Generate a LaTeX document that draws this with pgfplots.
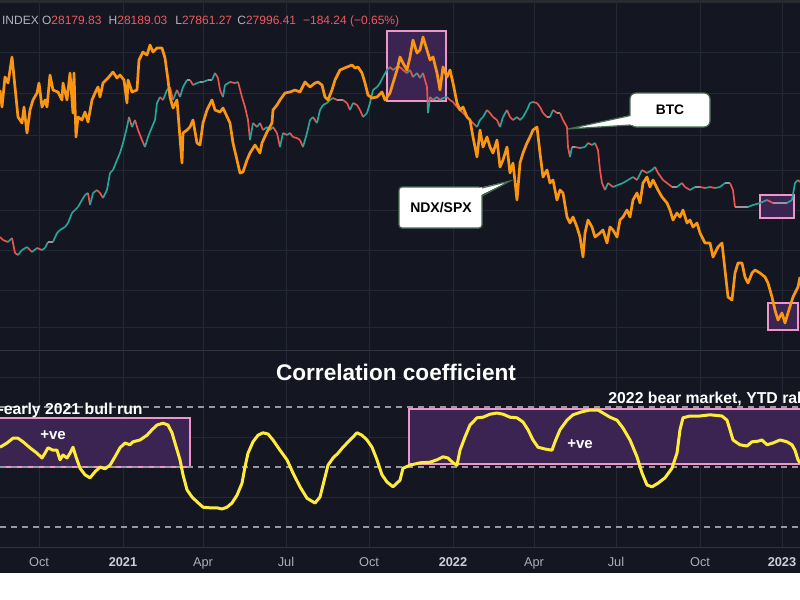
\documentclass[border=0pt]{standalone}
\usepackage{fontspec}
\setmainfont{Liberation Sans}
\usepackage{pgfplots}
\pgfplotsset{compat=1.18}
\definecolor{bg}{RGB}{20,23,33}
\definecolor{gridc}{RGB}{36,40,52}
\definecolor{sepc}{RGB}{48,52,64}
\definecolor{topc}{RGB}{40,42,48}
\definecolor{orng}{RGB}{250,150,20}
\definecolor{yel}{RGB}{255,235,59}
\definecolor{boxfill}{RGB}{60,36,82}
\definecolor{boxpink}{RGB}{238,150,200}
\definecolor{hdrgray}{RGB}{178,181,190}
\definecolor{hdrred}{RGB}{242,88,95}
\definecolor{tickc}{RGB}{170,173,182}
\definecolor{tickb}{RGB}{205,207,214}
\definecolor{dashc}{RGB}{150,153,162}
\definecolor{callb}{RGB}{70,110,80}
\pgfplotsset{
  panel/.style={scale only axis, width=400pt, xmin=0, xmax=800,
    axis line style={draw=none}, tick style={draw=none},
    xtick={39,123,203,286,369,453,534,616,700,782},
    xmajorgrids, ymajorgrids,
    major grid style={gridc, line width=0.5pt}},
}
\begin{document}
\begin{tikzpicture}
\useasboundingbox (0pt,0pt) rectangle (400pt,-300pt);
\clip (0pt,0pt) rectangle (400pt,-300pt);
\begin{scope}[x=0.5pt,y=-0.5pt]
\fill[bg] (0,0) rectangle (800,573);
\fill[white] (0,573) rectangle (800,600);
\fill[topc] (0,0) rectangle (800,3);
\end{scope}

% ---------------- upper panel ----------------
\begin{axis}[panel, at={(0pt,-175pt)}, anchor=south west, height=175pt,
  ymin=0, ymax=350, y dir=reverse,
  ytick={52,93,135,170,210,250,290,327},
  xticklabels={}, yticklabels={},
  colormap={btc}{rgb255(0)=(239,83,80) rgb255(1)=(150,150,156) rgb255(2)=(38,166,154)},
  point meta min=0, point meta max=1]
\addplot[fill=boxfill, draw=boxpink, line width=1.4pt] coordinates {(387,31) (446,31) (446,101) (387,101)} -- cycle;
\addplot[fill=boxfill, draw=boxpink, line width=1.4pt] coordinates {(760,195) (794,195) (794,218) (760,218)} -- cycle;
\addplot[fill=boxfill, draw=boxpink, line width=1.4pt] coordinates {(768,303) (798,303) (798,330) (768,330)} -- cycle;
% BTC
\addplot[mesh, shader=flat corner, point meta=explicit, line width=0.85pt] table[meta=c] {
x y c
0 237 0
3 240 0
8 242 1
12 238 0
15 253 0
18 255 1
22 250 1
27 247 0
32 252 1
37 248 0
42 250 1
45 248 1
48 242 0.5
53 242 1
57 233 1
60 230 1
65 227 1
68 223 1
72 213 1
75 210 1
78 207 1
82 200 1
85 195 1
88 193 0
90 205 1
93 193 1
97 190 0
100 193 0
103 198 1
107 190 1
110 173 1
113 170 1
117 160 1
120 153 1
123 143 1
127 127 1
129 117 0
132 127 1
135 120 0
138 130 0
142 140 0
145 147 1
148 137 1
152 127 1
155 120 1
157 103 1
160 97 0
163 100 1
167 90 1
170 87 0
173 100 1
177 90 0
180 97 1
183 87 1
187 80 0.5
190 80 0
193 85 1
197 83 1
200 82 0.5
203 82 1
208 80 0.5
212 80 1
215 73 0
218 78 0
220 90 0
223 97 1
225 85 1
230 82 0
235 83 1
238 82 0
242 97 0
245 107 0
248 120 0
250 140 1
253 123 0
257 127 1
260 123 0
263 130 1
267 127 0
270 130 1
273 127 0
277 133 0
280 147 1
283 133 0
287 135 1
290 133 0
293 137 0
297 138 0
300 140 0
303 147 1
307 133 1
310 120 1
313 117 0
317 123 1
320 110 1
323 105 1
327 103 1
330 100 1
333 98 0
337 100 0.5
340 100 0.5
343 100 0
347 103 0
350 110 1
353 103 0
357 105 0
360 110 0
363 117 1
367 113 1
370 103 1
373 90 1
377 87 1
380 83 1
383 77 1
387 70 1
390 67 0
393 70 1
397 67 0.5
400 67 0
403 70 0
407 73 1
410 70 0
413 77 1
417 73 0
420 78 1
423 73 0
427 87 0
428 113 1
430 97 0
433 100 1
437 97 0
440 100 1
443 98 1
447 97 0
450 100 0
453 102 0
457 107 0
460 110 0
463 113 0
467 117 0
470 120 0
473 123 0
477 127 1
480 120 1
483 117 1
487 110 0
490 113 0
493 117 0
497 120 0
500 127 1
503 117 1
507 110 0
510 117 0
513 120 1
517 117 0
520 120 1
523 117 1
527 110 1
530 103 1
533 102 0
537 103 0
540 107 0
543 113 0
547 117 0.5
550 117 1
553 110 0
557 113 0.5
560 113 0
563 120 0
567 127 0
568 147 0
570 157 1
572 147 0.5
575 147 0
580 148 1
585 147 1
588 143 0
592 145 1
595 143 0
598 150 0
600 170 0
602 183 0
605 190 1
608 183 0
613 187 1
618 185 1
623 183 1
628 180 1
633 177 0
637 180 1
642 170 0
647 173 1
652 170 1
655 167 0
658 173 0
663 180 0
667 183 0
672 187 0.5
677 187 1
682 183 0
685 187 0
690 190 1
695 187 0.5
700 187 0
705 188 1
710 187 0
715 188 1
720 187 1
725 183 0.5
730 183 0
733 190 0
735 207 0.5
738 207 0.5
743 207 0.5
748 207 1
753 205 1
760 203 1
767 200 0
773 203 0.5
780 203 0.5
787 203 1
792 200 1
795 183 1
798 180 0
800 182 0
};
% NDX/SPX
\addplot[orng, line width=1.35pt, line join=round] coordinates {
(0,90) (2,107) (5,77) (8,83) (12,57) (15,87) (18,117) (22,123) (24,107) (27,133)
(30,110) (33,100) (37,93) (39,83) (42,107) (45,100) (47,107) (50,75) (53,90) (58,92)
(62,100) (63,83) (67,100) (70,73) (73,113) (74,73) (76,137) (78,117) (82,120) (85,112)
(88,122) (92,100) (95,93) (98,87) (100,97) (103,83) (108,78) (113,72) (117,78) (120,75)
(124,80) (127,103) (128,80) (132,92) (137,90) (139,60) (143,52) (147,55) (150,45) (153,52)
(157,48) (162,48) (165,58) (168,80) (170,97) (173,108) (177,100) (182,163) (183,133) (187,130)
(190,127) (193,120) (197,143) (200,145) (203,123) (207,110) (212,100) (215,110) (220,112) (223,108)
(230,123) (233,143) (237,160) (240,173) (243,172) (247,160) (250,153) (255,145) (260,153) (262,143)
(267,132) (272,123) (273,110) (277,105) (280,100) (285,93) (290,92) (295,90) (300,92) (305,82)
(310,87) (315,83) (318,82) (322,85) (325,97) (328,100) (332,90) (335,80) (340,70) (347,67)
(352,65) (355,68) (358,67) (362,73) (365,83) (368,95) (372,98) (377,97) (382,92) (385,100)
(390,93) (393,83) (397,70) (400,57) (403,63) (407,70) (410,57) (413,40) (417,53) (420,50)
(423,37) (427,50) (430,60) (433,57) (437,73) (440,90) (443,67) (447,77) (450,70) (453,83)
(457,103) (460,110) (463,107) (467,117) (470,120) (473,137) (477,157) (480,130) (483,147) (487,137)
(490,147) (493,153) (497,140) (500,167) (503,160) (507,147) (510,173) (513,163) (517,200) (520,163)
(523,153) (527,143) (530,137) (533,130) (537,127) (540,153) (543,177) (547,170) (550,183) (553,180)
(557,200) (560,190) (563,193) (567,217) (570,223) (573,217) (577,227) (580,237) (583,257) (585,233)
(588,220) (592,227) (595,237) (600,233) (603,230) (607,243) (610,227) (613,230) (617,237) (620,220)
(623,217) (627,210) (630,217) (633,200) (637,193) (640,203) (643,183) (647,177) (650,187) (653,180)
(658,190) (662,197) (667,203) (670,210) (673,220) (677,213) (680,217) (683,210) (687,223) (690,220)
(693,227) (697,223) (700,233) (705,243) (710,243) (713,257) (718,247) (722,243) (725,270) (728,297)
(732,300) (735,273) (738,263) (742,263) (745,277) (748,283) (752,273) (755,270) (760,273) (765,277)
(768,283) (772,297) (775,310) (778,320) (782,313) (785,323) (788,313) (793,297) (798,287) (800,277)
};
\end{axis}

% ---------------- lower panel ----------------
\begin{axis}[panel, at={(0pt,-273.5pt)}, anchor=south west, height=98.5pt,
  ymin=-1.3333, ymax=1.95, ytick={-0.5,0.5,1.5}, yticklabels={},
  xticklabels={Oct,\textcolor{tickb}{\textbf{2021}},Apr,Jul,Oct,\textcolor{tickb}{\textbf{2022}},Apr,Jul,Oct,\textcolor{tickb}{\textbf{2023}}},
  xticklabel style={anchor=base, yshift=-9.6pt, text=tickc, font=\fontsize{6.4}{7}\selectfont}]
\addplot[fill=boxfill, draw=boxpink, line width=1.4pt] coordinates {(-5,0.817) (190,0.817) (190,0) (-5,0)} -- cycle;
\addplot[fill=boxfill, draw=boxpink, line width=1.4pt] coordinates {(409,0.967) (810,0.967) (810,0.05) (409,0.05)} -- cycle;
\addplot[dashc, line width=0.6pt, dash pattern=on 3pt off 2.5pt] coordinates {(0,1) (800,1)};
\addplot[dashc, line width=0.6pt, dash pattern=on 3pt off 2.5pt] coordinates {(0,0) (800,0)};
\addplot[dashc, line width=0.6pt, dash pattern=on 3pt off 2.5pt] coordinates {(0,-1) (800,-1)};
\addplot[yel, line width=1.5pt, line join=round] coordinates {
(0,0.33) (7,0.40) (13,0.48) (18,0.48) (23,0.42) (30,0.32) (37,0.23) (42,0.15) (45,0.23) (48,0.32)
(53,0.28) (57,0.28) (60,0.12) (63,0.20) (67,0.15) (70,0.23) (73,0.33) (76,0.17) (80,-0.02) (85,-0.13)
(90,-0.18) (95,-0.08) (100,0) (105,-0.03) (110,0.03) (115,0.17) (120,0.32) (125,0.40) (130,0.37) (133,0.42)
(140,0.45) (147,0.53) (152,0.62) (157,0.70) (163,0.73) (168,0.70) (172,0.57) (175,0.40) (180,0.12) (183,-0.13)
(187,-0.38) (192,-0.50) (197,-0.58) (203,-0.67) (210,-0.68) (217,-0.68) (222,-0.70) (227,-0.67) (232,-0.60) (237,-0.47)
(242,-0.27) (245,0) (248,0.23) (253,0.42) (258,0.53) (263,0.57) (268,0.55) (273,0.45) (280,0.28) (287,0.12)
(293,-0.10) (300,-0.33) (307,-0.52) (315,-0.60) (320,-0.50) (325,-0.17) (328,0.03) (333,0.15) (338,0.23) (343,0.33)
(350,0.45) (357,0.57) (362,0.53) (367,0.45) (372,0.33) (377,0.12) (382,-0.13) (387,-0.25) (393,-0.33) (400,-0.22)
(403,-0.02) (410,0.03) (420,0.07) (430,0.08) (437,0.12) (443,0.17) (448,0.15) (453,0.07) (457,0.03) (460,0.28)
(465,0.50) (470,0.70) (477,0.82) (483,0.83) (490,0.88) (497,0.90) (503,0.88) (510,0.83) (517,0.82) (523,0.75)
(528,0.62) (533,0.45) (538,0.33) (545,0.30) (552,0.28) (555,0.42) (560,0.62) (567,0.78) (573,0.87) (582,0.92)
(590,0.95) (598,0.95) (603,0.90) (610,0.83) (617,0.78) (623,0.65) (630,0.45) (637,0.17) (642,-0.10) (647,-0.30)
(652,-0.33) (658,-0.27) (665,-0.18) (672,-0.02) (677,0.23) (680,0.62) (683,0.82) (690,0.85) (700,0.85) (710,0.87)
(722,0.85) (727,0.78) (730,0.62) (733,0.45) (740,0.37) (747,0.35) (752,0.42) (758,0.43) (762,0.45) (767,0.37)
(773,0.40) (780,0.45) (787,0.42) (792,0.37) (795,0.28) (798,0.12) (800,0.07)
};
\end{axis}

% ---------------- annotations ----------------
\begin{scope}[x=0.5pt,y=-0.5pt]
\draw[sepc, line width=0.5pt] (0,350) -- (800,350);
\draw[sepc, line width=0.5pt] (0,547) -- (800,547);
% header
\begin{scope}[every node/.style={anchor=base west, inner sep=0pt, font=\fontsize{6}{7}\selectfont}]
\node[text=hdrgray] at (1.7,24) {INDEX};
\node at (41.7,24) {\textcolor{hdrgray}{O}\textcolor{hdrred}{28179.83}};
\node at (108.3,24) {\textcolor{hdrgray}{H}\textcolor{hdrred}{28189.03}};
\node at (175,24) {\textcolor{hdrgray}{L}\textcolor{hdrred}{27861.27}};
\node at (237,24) {\textcolor{hdrgray}{C}\textcolor{hdrred}{27996.41}};
\node[text=hdrred] at (302.7,24) {−184.24 (−0.65\%)};
\end{scope}
% BTC callout
\draw[callb, line width=0.6pt, fill=white, rounded corners=3pt] (630,93) rectangle (710,127);
\fill[white] (633,115) -- (568,129) -- (633,125) -- cycle;
\draw[callb, line width=0.6pt] (630.5,115.5) -- (568,129) -- (630.5,125);
\node[font=\fontsize{6.9}{8}\selectfont\bfseries, text=black] at (670,110) {BTC};
% NDX/SPX callout
\draw[callb, line width=0.6pt, fill=white, rounded corners=1.5pt] (399,187) rectangle (482,228);
\fill[white] (479,188) -- (510,181) -- (479,196) -- cycle;
\draw[callb, line width=0.6pt] (482,188) -- (510,181) -- (482,196);
\node[font=\fontsize{7}{8}\selectfont\bfseries, text=black] at (441,208) {NDX/SPX};
% lower panel texts
\node[font=\fontsize{11.3}{13}\selectfont\bfseries, text=white] at (396,372) {Correlation coefficient};
\node[anchor=base east, inner sep=0pt, font=\fontsize{7.9}{9}\selectfont\bfseries, text=white] at (143,414) {Late 2020-early 2021 bull run};
\node[anchor=base west, inner sep=0pt, font=\fontsize{7.9}{9}\selectfont\bfseries, text=white] at (608,403) {2022 bear market, YTD rally};
\node[font=\fontsize{7.5}{9}\selectfont\bfseries, text=white] at (53,435) {+ve};
\node[font=\fontsize{7.5}{9}\selectfont\bfseries, text=white] at (580,444) {+ve};
\end{scope}
\end{tikzpicture}
\end{document}
